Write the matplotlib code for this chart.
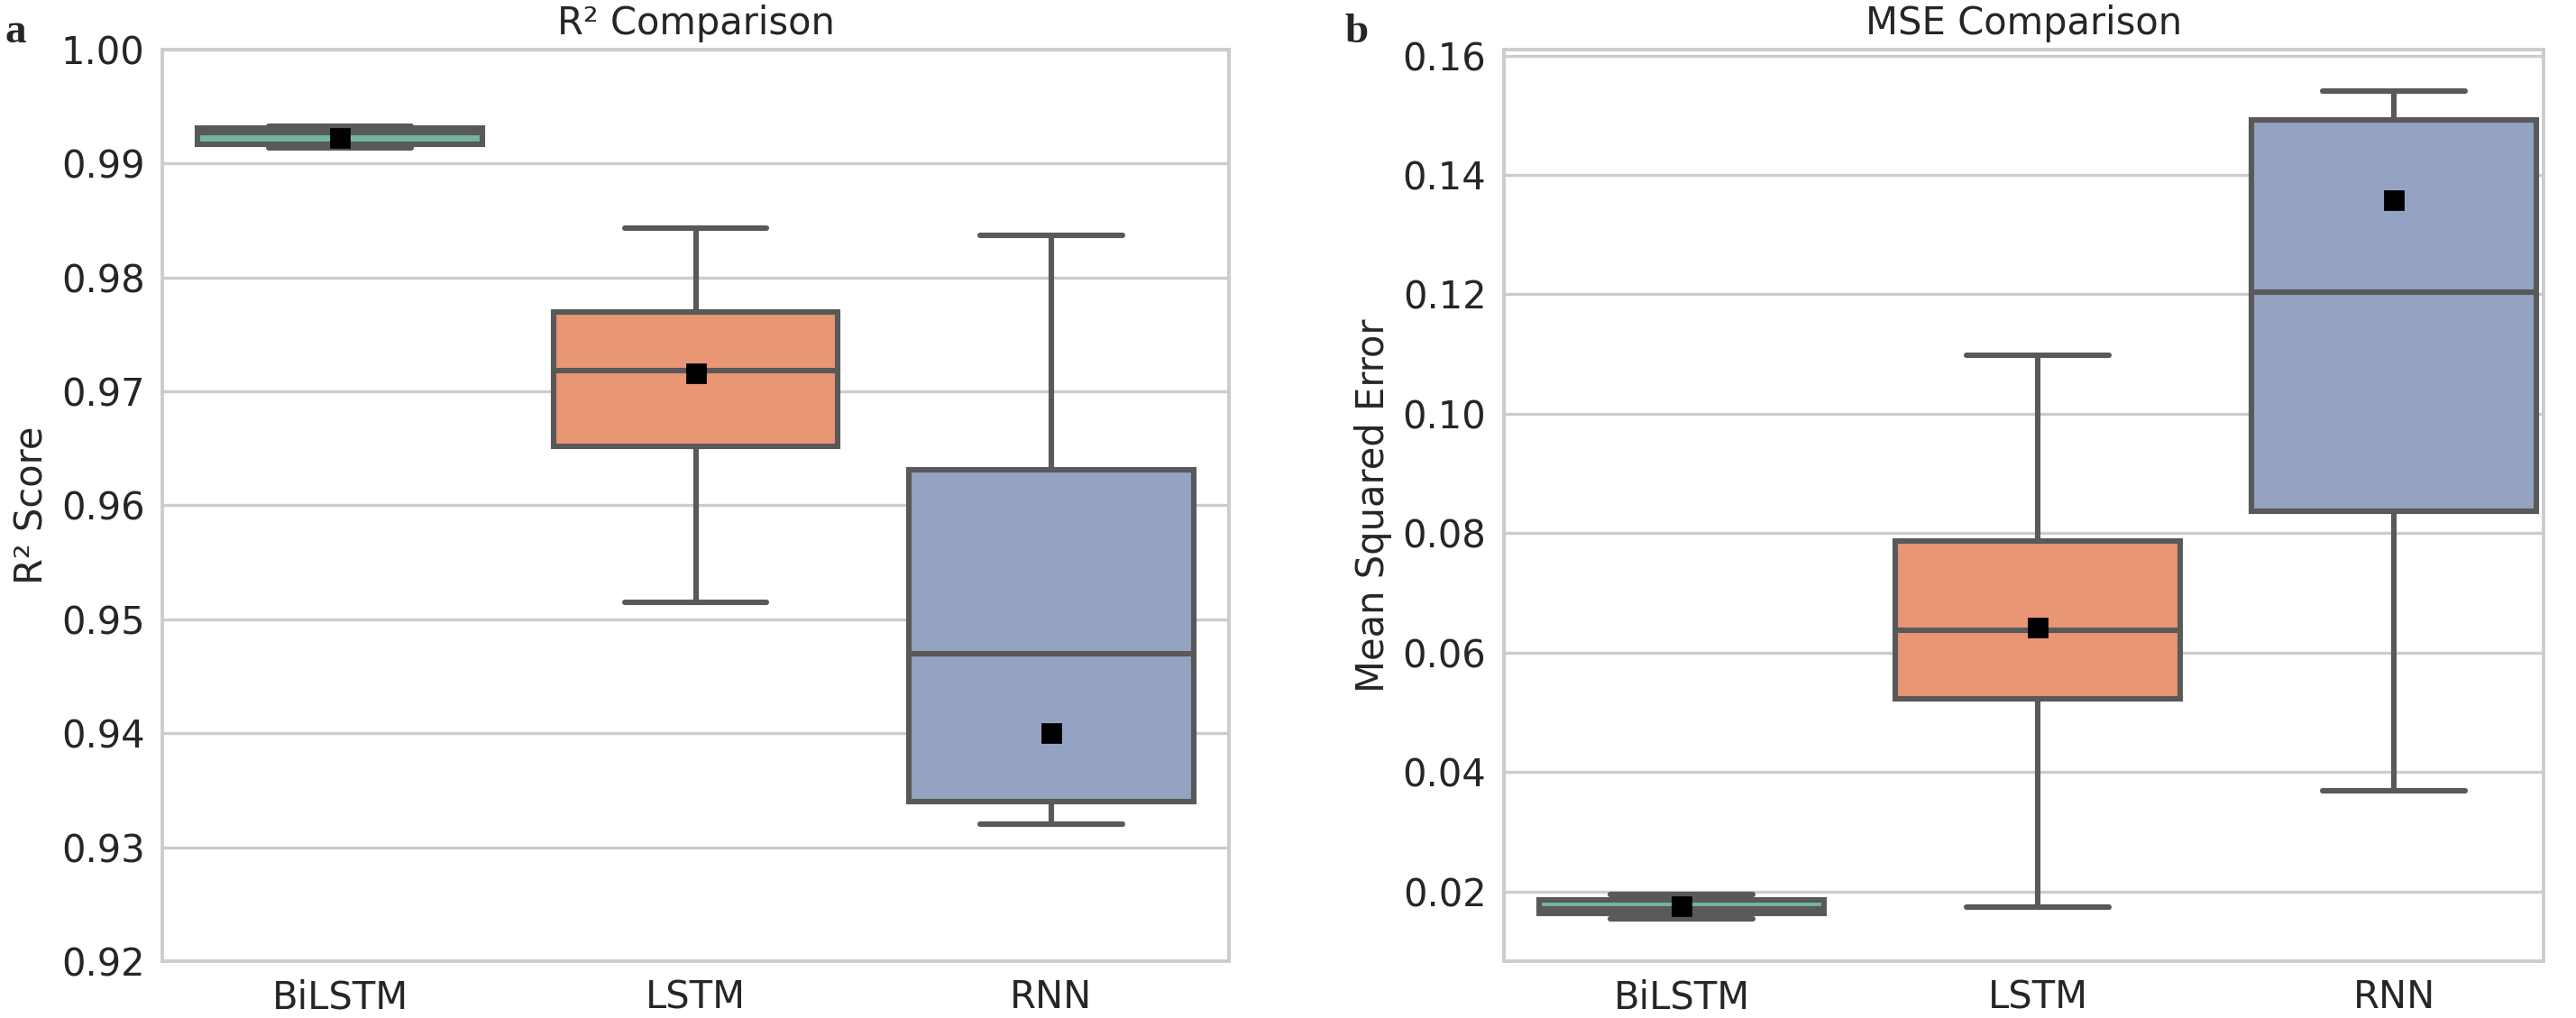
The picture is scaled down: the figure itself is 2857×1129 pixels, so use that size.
import matplotlib
matplotlib.use("Agg")
import matplotlib.pyplot as plt
import seaborn as sns

models = ["BiLSTM", "LSTM", "RNN"]

# R2 box statistics per model
r2_whislo = [0.99135, 0.9515, 0.9320]
r2_q1 = [0.99169, 0.9652, 0.9340]
r2_med = [0.9927, 0.9718, 0.9470]
r2_q3 = [0.99314, 0.9770, 0.9631]
r2_whishi = [0.99325, 0.9843, 0.9837]
r2_mean = [0.99222, 0.9716, 0.9400]

# MSE box statistics per model
mse_whislo = [0.0154, 0.0174, 0.0369]
mse_q1 = [0.0163, 0.0522, 0.0837]
mse_med = [0.0170, 0.0638, 0.1203]
mse_q3 = [0.0185, 0.0787, 0.1492]
mse_whishi = [0.0195, 0.1098, 0.1540]
mse_mean = [0.01755, 0.0642, 0.1357]

r2_ticks = [0.92, 0.93, 0.94, 0.95, 0.96, 0.97, 0.98, 0.99, 1.00]
mse_ticks = [0.02, 0.04, 0.06, 0.08, 0.10, 0.12, 0.14, 0.16]


def make_stats(lo, q1, med, q3, hi, mean):
    stats = []
    for i in range(len(models)):
        stats.append({
            "label": models[i],
            "whislo": lo[i],
            "q1": q1[i],
            "med": med[i],
            "q3": q3[i],
            "whishi": hi[i],
            "mean": mean[i],
            "fliers": [],
        })
    return stats


def draw_box(ax, stats, colors):
    edge = "#595959"
    lw = 2.2
    res = ax.bxp(
        stats,
        positions=range(len(stats)),
        widths=0.8,
        patch_artist=True,
        showmeans=True,
        showfliers=False,
        boxprops=dict(edgecolor=edge, linewidth=lw),
        whiskerprops=dict(color=edge, linewidth=lw),
        capprops=dict(color=edge, linewidth=lw, solid_capstyle="round"),
        medianprops=dict(color=edge, linewidth=lw),
        meanprops=dict(marker="s", markerfacecolor="black",
                       markeredgecolor="black", markersize=7.5),
    )
    for patch, c in zip(res["boxes"], colors):
        patch.set_facecolor(c)
    for m in res["means"]:
        m.set_zorder(5)


sns.set_style("whitegrid")
plt.rcParams["font.family"] = ["DejaVu Sans"]

pal = sns.color_palette("Set2", 3)
colors = [sns.desaturate(c, 0.75) for c in pal]

fig = plt.figure(figsize=(14.285, 5.645), dpi=200)
ax1 = fig.add_axes([0.0630, 0.0558, 0.4141, 0.8955])
ax2 = fig.add_axes([0.5838, 0.0558, 0.4036, 0.8955])

draw_box(ax1, make_stats(r2_whislo, r2_q1, r2_med, r2_q3, r2_whishi, r2_mean), colors)
draw_box(ax2, make_stats(mse_whislo, mse_q1, mse_med, mse_q3, mse_whishi, mse_mean), colors)

ax1.set_ylim(0.92, 1.00)
ax1.set_yticks(r2_ticks)
ax1.set_yticklabels([f"{t:.2f}" for t in r2_ticks])
ax1.set_xlim(-0.5, 2.5)
ax1.set_title("R² Comparison", fontsize=15)
ax1.set_ylabel("R² Score", fontsize=15)

ax2.set_ylim(0.0083, 0.161)
ax2.set_yticks(mse_ticks)
ax2.set_yticklabels([f"{t:.2f}" for t in mse_ticks])
ax2.set_xlim(-0.5, 2.42)
ax2.set_title("MSE Comparison", fontsize=15)
ax2.set_ylabel("Mean Squared Error", fontsize=15)

for ax in (ax1, ax2):
    ax.set_xticks(range(len(models)))
    ax.set_xticklabels(models)
    ax.tick_params(labelsize=15)
    ax.grid(axis="x", visible=False)
    ax.grid(axis="y", color="#cccccc", linewidth=1.2)
    ax.set_axisbelow(True)
    for s in ax.spines.values():
        s.set_color("#cccccc")
        s.set_linewidth(1.4)

fig.text(0.0018, 0.958, "a", fontsize=17, fontweight="bold",
         family=["Liberation Serif", "DejaVu Serif"])
fig.text(0.522, 0.958, "b", fontsize=17, fontweight="bold",
         family=["Liberation Serif", "DejaVu Serif"])

fig.savefig("out.png", dpi=200)
plt.close(fig)
